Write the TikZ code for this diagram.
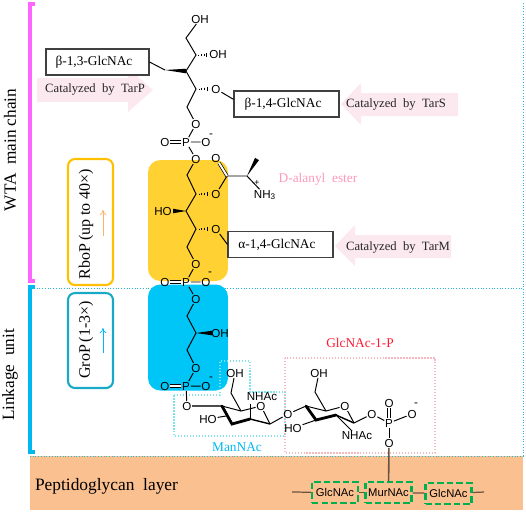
\documentclass[tikz,border=0pt]{standalone}
\usepackage{fontspec}
\setmainfont{Liberation Serif}
\setsansfont{Liberation Sans}
\usepackage{xcolor}
\usetikzlibrary{arrows.meta,positioning,calc}
\definecolor{wtapink}{HTML}{FF66FF}
\definecolor{linkblue}{HTML}{00B8F0}
\definecolor{peach}{HTML}{FAC090}
\definecolor{dotblue}{HTML}{22BBD0}
\definecolor{palepink}{HTML}{FBE9EF}
\definecolor{goldblock}{HTML}{FFD133}
\definecolor{cyanblock}{HTML}{00C6F8}
\definecolor{ribitol}{HTML}{FFC000}
\definecolor{glycerol}{HTML}{17A9C5}
\definecolor{pepgreen}{HTML}{00B050}
\definecolor{stem}{HTML}{6B5344}
\definecolor{alapink}{HTML}{FF99BB}
\definecolor{glcred}{HTML}{FF1A30}
\definecolor{manbox}{HTML}{80E4E8}
\definecolor{glcbox}{HTML}{F8B8C0}
\tikzset{
  atom/.style={font=\sffamily\fontsize{6.6}{7}\selectfont, inner sep=0.3pt},
  bond/.style={line width=0.55pt, black},
  dblbond/.style={line width=0.4pt, black, double, double distance=1.1pt},
  thickbond/.style={line width=1.6pt, black, line cap=round},
  glybox/.style={draw=black!75, line width=0.6pt, fill=white, minimum height=0.52cm, inner sep=0pt,
    font=\fontsize{7.6}{9}\selectfont, execute at end node=\hspace*{4pt}},
  catlabel/.style={font=\fontsize{7.2}{9}\selectfont, black!85, inner sep=0pt},
  sidelabel/.style={font=\fontsize{9.8}{12}\selectfont, rotate=90, inner sep=0pt},
  unitbox/.style={draw, line width=1.2pt, rounded corners=4pt, minimum width=0.9cm},
  unitlabel/.style={font=\fontsize{9.1}{11}\selectfont, rotate=90, inner sep=0pt},
  block/.style={rounded corners=7pt, minimum width=1.6cm, inner sep=0pt},
  pepbox/.style={draw=pepgreen, line width=1.4pt, dash pattern=on 3.6pt off 1.8pt, minimum width=0.92cm,
    minimum height=0.42cm, inner sep=0pt, font=\sffamily\fontsize{6.4}{8}\selectfont},
  dotline/.style={dotblue, line width=0.55pt, densely dotted},
  palearrow/.style={fill=palepink},
  pepline/.style={stem, line width=0.7pt}
}
% wedge and hashed bonds, both get wider towards the second point
\newcommand{\wedgebond}[2]{\fill (#1) -- ($(#2)!1.3pt!90:(#1)$) -- ($(#2)!1.3pt!-90:(#1)$) -- cycle;}
\newcommand{\hashbond}[2]{\foreach \t in {0.2,0.4,0.6,0.8,1.0}
  \draw[line width=0.25pt] ($(#1)!\t!(#2)!\t*1.3pt!90:(#2)$) -- ($(#1)!\t!(#2)!\t*1.3pt!-90:(#2)$);}
\begin{document}
\begin{tikzpicture}[x=0.02cm,y=-0.02cm]
  \useasboundingbox (0,0) rectangle (526,512);

  % Peptidoglycan band and frame
  \fill[peach] (30,456) rectangle (523,510);
  \draw[dotline] (523,3) -- (523,456);
  \draw[dotline] (34,288) -- (523,288);
  \draw[dotline] (30,456) -- (523,456);

  % Brackets
  \draw[wtapink, line width=2.6pt] (34.5,4) -- (30,4) -- (30,281) -- (34.5,281);
  \draw[linkblue, line width=2.6pt] (34.5,287) -- (30,287) -- (30,452) -- (34.5,452);
  \node[sidelabel] (wtalabel) at (10,150) {WTA\ \ main chain};
  \node[sidelabel] (linklabel) at (10,375) {Linkage\ \ unit};
  \node[font=\fontsize{9.9}{12}\selectfont, inner sep=0pt] (peplabel) at (106.5,486) {Peptidoglycan\ \ layer};

  % Pale arrows
  \fill[palearrow] (37,78) -- (128,78) -- (128,68) -- (153,90) -- (128,112) -- (128,102) -- (37,102) -- cycle;
  \fill[palearrow] (458,93) -- (361,93) -- (361,83) -- (341,104) -- (361,125) -- (361,116) -- (458,116) -- cycle;
  \fill[palearrow] (451,235) -- (355,235) -- (355,225) -- (335,246) -- (355,266) -- (355,258) -- (451,258) -- cycle;
  \node[catlabel] (catp) at (95,89) {Catalyzed\ \ by\ \ TarP};
  \node[catlabel] (cats) at (396,104) {Catalyzed\ \ by\ \ TarS};
  \node[catlabel] (catm) at (398,247) {Catalyzed\ \ by\ \ TarM};

  % Repeat units
  \node[block, fill=goldblock, minimum height=2.42cm] (goldrect) at (188,220.5) {};
  \node[block, fill=cyanblock, minimum height=2.12cm] (cyanrect) at (188,337.5) {};
  \node[unitbox, draw=ribitol, minimum height=2.52cm] (rbopbox) at (90.5,222) {};
  \node[unitbox, draw=glycerol, minimum height=1.9cm] (gropbox) at (90.5,340.5) {};
  \node[unitlabel] (rboplabel) at (86,224) {RboP\,(up to 40×)};
  \node[unitlabel] (groplabel) at (86,340) {GroP\,(1-3×)};
  \coordinate (rbopa) at (103,236);
  \coordinate (rbopb) at (103,210);
  \coordinate (gropa) at (103,353);
  \coordinate (gropb) at (103,328);
  \draw[->, >={To[length=3pt,width=4pt]}, orange!60, line width=0.4pt] (rbopa) -- (rbopb);
  \draw[->, >={To[length=3pt,width=4pt]}, linkblue, line width=0.4pt] (gropa) -- (gropb);

  % Outlines of the sugars
  \draw[manbox, line width=0.7pt, densely dotted] (174,395) -- (220,395) -- (220,361) -- (250,361)
    -- (250,392) -- (285,392) -- (285,436) -- (174,436) -- cycle;
  \draw[glcbox, line width=0.7pt, densely dotted] (285,358) rectangle (435,453);
  \node[font=\fontsize{7.6}{9}\selectfont, glcred, inner sep=0pt] (glclabel) at (360,343) {GlcNAc-1-P};
  \node[font=\fontsize{7.6}{9}\selectfont, linkblue, inner sep=0pt] (manlabel) at (237,447) {ManNAc};
  \node[font=\fontsize{7.6}{9}\selectfont, alapink, inner sep=0pt] (alalabel) at (318,179) {D-alanyl\ \ ester};

  % Top of the chain
  \node[glybox, minimum width=2.06cm] (glca) at (97.5,62) {β-1,3-GlcNAc};
  \node[glybox, minimum width=2.1cm] (glcb) at (286.5,104) {β-1,4-GlcNAc};
  \node[glybox, minimum width=2.1cm] (glcc) at (280.5,244.5) {α-1,4-GlcNAc};
  \node[atom] (oha) at (200,19) {OH};
  \node[atom] (ohb) at (218,54) {OH};
  \node[atom] (oa) at (216,89) {O};
  \node[atom] (ob) at (196,124) {O};
  \node[atom] (pa) at (186,142) {P};
  \node[atom] (oc) at (165,142) {O};
  \node[atom] (od) at (206,142) {O};
  \node[atom] (mina) at (211,136) {-};
  \coordinate (ca) at (186,38);
  \coordinate (cb) at (196,55);
  \coordinate (cc) at (186,71);
  \coordinate (cd) at (196,89);
  \coordinate (ce) at (187,107);
  \coordinate (hba) at (209,55);
  \coordinate (hbb) at (210,89);
  \coordinate (wba) at (165,70);
  \draw[bond] (oha) -- (ca) -- (cb) -- (cc) -- (cd) -- (ce) -- (ob) -- (pa) -- (od);
  \draw[dblbond] (pa) -- (oc);
  \draw[bond] (wba) -- (glca.east);
  \draw[bond] (oa) -- (glcb.175);
  \wedgebond{wba}{cc}
  \hashbond{cb}{hba}
  \hashbond{cd}{hbb}

  % Ribitol unit
  \node[atom] (oe) at (196,159) {O};
  \node[atom] (of) at (216,194) {O};
  \node[atom] (og) at (216,158) {O};
  \node[atom] (nh) at (265,195) {NH\textsubscript{3}};
  \node[atom, font=\sffamily\fontsize{5}{6}\selectfont] (plus) at (257,183) {+};
  \node[atom] (hoa) at (163,211) {HO};
  \node[atom] (oh) at (216,229) {O};
  \node[atom] (oi) at (196,264) {O};
  \node[atom] (pb) at (186,282) {P};
  \node[atom] (oj) at (165,282) {O};
  \node[atom] (ok) at (206,282) {O};
  \node[atom] (minb) at (210,274) {-};
  \coordinate (cf) at (187,175);
  \coordinate (cg) at (196,194);
  \coordinate (ch) at (186,211);
  \coordinate (ci) at (196,229);
  \coordinate (cj) at (187,247);
  \coordinate (ck) at (227,176);
  \coordinate (cl) at (247,176);
  \coordinate (wbb) at (257,159);
  \coordinate (wbc) at (173,211);
  \coordinate (hbc) at (210,194);
  \coordinate (hbd) at (210,229);
  \draw[bond] (pa) -- (oe) -- (cf) -- (cg) -- (ch) -- (ci) -- (cj) -- (oi) -- (pb) -- (ok);
  \draw[bond] (of) -- (ck) -- (cl) -- (nh);
  \draw[dblbond] (ck) -- (og);
  \draw[dblbond] (pb) -- (oj);
  \draw[bond] (oh) -- (glcc.west);
  \wedgebond{cl}{wbb}
  \wedgebond{ch}{wbc}
  \hashbond{cg}{hbc}
  \hashbond{ci}{hbd}

  % Glycerol unit
  \node[atom] (ol) at (196,299) {O};
  \node[atom] (ohc) at (220,333) {OH};
  \node[atom] (om) at (196,368) {O};
  \node[atom] (pc) at (186,386) {P};
  \node[atom] (on) at (165,386) {O};
  \node[atom] (oo) at (206,386) {O};
  \node[atom] (minc) at (211,379) {-};
  \node[atom] (op) at (187,406) {O};
  \coordinate (cm) at (187,316);
  \coordinate (cn) at (196,333);
  \coordinate (co) at (187,350);
  \coordinate (wbd) at (212,333);
  \draw[bond] (pb) -- (ol) -- (cm) -- (cn) -- (co) -- (om) -- (pc) -- (oo);
  \draw[bond] (pc) -- (op);
  \draw[dblbond] (pc) -- (on);
  \wedgebond{cn}{wbd}

  % ManNAc ring
  \node[atom] (ohd) at (235,373) {OH};
  \node[atom] (hob) at (208,419) {HO};
  \node[atom] (nhac) at (262,397) {NHAc};
  \node[atom] (oq) at (261,406) {O};
  \node[atom] (or) at (288,414) {O};
  \coordinate (ma) at (222,406);
  \coordinate (mb) at (232,424);
  \coordinate (mc) at (250,419);
  \coordinate (md) at (270,424);
  \coordinate (me) at (241,411);
  \coordinate (mf) at (231,393);
  \coordinate (mg) at (250,404);
  \coordinate (mh) at (226,416);
  \draw[bond, black!70, line width=0.8pt] (op) -- (ma);
  \draw[thickbond] (ma) -- (mb) -- (mc);
  \draw[bond, line width=0.8pt] (mc) -- (md);
  \draw[bond] (md) -- (oq) -- (me) -- (ma);
  \draw[bond] (me) -- (mf) -- (ohd);
  \draw[bond] (mc) -- (mg);
  \draw[bond] (hob) -- (mh);
  \draw[bond] (md) -- (or);

  % GlcNAc ring and phosphate
  \node[atom] (ohe) at (319,373) {OH};
  \node[atom] (hoc) at (293,428) {HO};
  \node[atom] (nhad) at (357,436) {NHAc};
  \node[atom] (os) at (345,406) {O};
  \node[atom] (ot) at (372,414) {O};
  \node[atom] (pd) at (389,423) {P};
  \node[atom] (ou) at (389,403) {O};
  \node[atom] (ov) at (412,414) {O};
  \node[atom] (mind) at (416,405) {-};
  \node[atom] (ow) at (389,443) {O};
  \coordinate (ga) at (306,406);
  \coordinate (gb) at (316,420);
  \coordinate (gc) at (336,415);
  \coordinate (gd) at (354,423);
  \coordinate (ge) at (326,411);
  \coordinate (gf) at (315,392);
  \draw[bond] (or) -- (ga);
  \draw[thickbond] (ga) -- (gb) -- (gc);
  \draw[bond, line width=0.8pt] (gc) -- (gd);
  \draw[bond] (gd) -- (os) -- (ge) -- (ga);
  \draw[bond] (ge) -- (gf) -- (ohe);
  \draw[bond] (hoc) -- (gb);
  \draw[bond] (gc) -- (nhad);
  \draw[bond] (gd) -- (ot) -- (pd) -- (ov);
  \draw[bond] (pd) -- (ow);
  \draw[dblbond] (pd) -- (ou);

  % Peptidoglycan strand
  \node[pepbox] (glcp) at (335,492.5) {GlcNAc};
  \node[pepbox] (murp) at (388.5,492.5) {MurNAc};
  \node[pepbox] (glcq) at (448.5,493.5) {GlcNAc};
  \coordinate (stranda) at (292,492);
  \coordinate (strandb) at (484,492);
  \draw[pepline] (stranda) -- (glcp);
  \draw[pepline] (glcp) -- (murp);
  \draw[pepline] (murp) -- (glcq);
  \draw[pepline] (glcq) -- (strandb);
  \draw[pepline, line width=0.9pt] (ow) -- (murp);
\end{tikzpicture}
\end{document}
